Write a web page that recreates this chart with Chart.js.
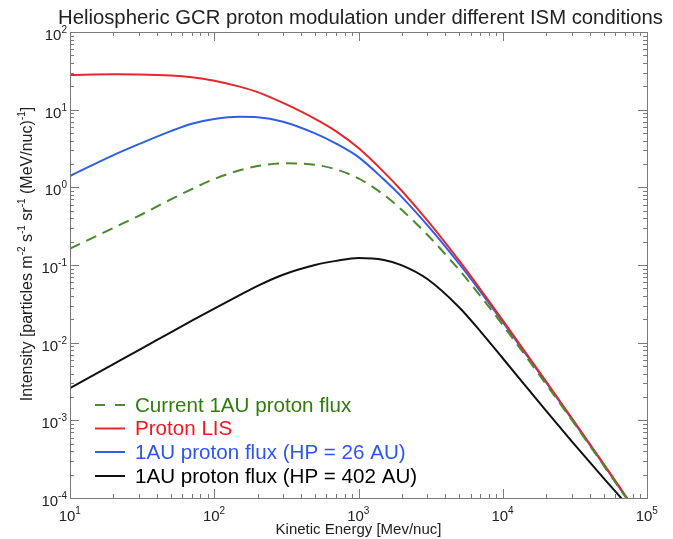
<!DOCTYPE html>
<html>
<head>
<meta charset="utf-8">
<script src="https://cdn.jsdelivr.net/npm/chart.js@4.4.1/dist/chart.umd.min.js"></script>
<style>
  html, body { margin: 0; padding: 0; background: #fff; }
</style>
</head>
<body>
<canvas id="fluxChart" width="673" height="539"></canvas>
<script>
// Kinetic energy grid (MeV/nuc)
const energy = [10, 20, 30, 50, 70, 100, 150, 200, 300, 500, 700, 1000, 1500, 2000, 3000, 5000, 7000, 10000, 20000, 30000, 50000, 70000, 100000];

// Intensities
const currentFlux = [0.163, 0.30, 0.43, 0.70, 0.95, 1.28, 1.66, 1.88, 2.04, 1.95, 1.70, 1.30, 0.80, 0.51, 0.245, 0.0858, 0.0399, 0.0169, 0.00291, 0.00102, 0.000263, 0.000107, 0.000041];
const protonLIS = [28, 28.5, 28.4, 27.6, 26.2, 23.6, 19.8, 16.8, 12.2, 7.6, 5.25, 3.2, 1.57, 0.897, 0.375, 0.113, 0.0487, 0.0194, 0.00316, 0.00108, 0.000275, 0.000111, 0.0000424];
const fluxHP26 = [1.4, 2.6, 3.6, 5.3, 6.6, 7.6, 8.1, 8.0, 7.0, 4.95, 3.65, 2.45, 1.26, 0.749, 0.326, 0.103, 0.0455, 0.0185, 0.00307, 0.00105, 0.00027, 0.000109, 0.0000416];
const fluxHP402 = [0.00259, 0.0053, 0.0080, 0.0136, 0.0192, 0.0275, 0.041, 0.054, 0.075, 0.100, 0.113, 0.123, 0.116, 0.099, 0.066, 0.0284, 0.0140, 0.0063, 0.00132, 0.00054, 0.00018, 0.0000888, 0.000042];

const xDecades = [1, 2, 3, 4, 5];
const yDecades = [2, 1, 0, -1, -2, -3, -4];

const chartTitle = 'Heliospheric GCR proton modulation under different ISM conditions';
const xTitle = 'Kinetic Energy [Mev/nuc]';
// y title pieces: [text, isSuperscript]
const yTitle = [['Intensity [particles m', 0], ['-2', 1], [' s', 0], ['-1', 1], [' sr', 0], ['-1', 1], [' (MeV/nuc)', 0], ['-1', 1], [']', 0]];

const FONT = '"Liberation Sans", Arial, Helvetica, sans-serif';

function toPoints(vals) {
    return energy.map((e, i) => ({ x: e, y: vals[i] }));
}

const datasets = [
    { label: 'Current 1AU proton flux', data: toPoints(currentFlux), borderColor: '#4a8a2c', borderDash: [11, 7], textColor: '#2f7d0e' },
    { label: 'Proton LIS', data: toPoints(protonLIS), borderColor: '#e8262d', textColor: '#f2161e' },
    { label: '1AU proton flux (HP = 26 AU)', data: toPoints(fluxHP26), borderColor: '#2f5fe6', textColor: '#2f55f0' },
    { label: '1AU proton flux (HP = 402 AU)', data: toPoints(fluxHP402), borderColor: '#111111', textColor: '#000000' }
].map(d => Object.assign({ borderWidth: 2, pointRadius: 0, fill: false, cubicInterpolationMode: 'monotone' }, d));

// draws 10^exp, anchored on x
function drawPower(ctx, x, y, exp, align) {
    ctx.font = '15px ' + FONT;
    const wb = ctx.measureText('10').width;
    ctx.font = '10px ' + FONT;
    const we = ctx.measureText(String(exp)).width;
    const x0 = align === 'right' ? x - wb - we : x - wb / 2 - 3;
    ctx.textAlign = 'left';
    ctx.textBaseline = 'alphabetic';
    ctx.font = '15px ' + FONT;
    ctx.fillText('10', x0, y);
    ctx.font = '10px ' + FONT;
    ctx.fillText(String(exp), x0 + wb, y - 7);
}

const framePlugin = {
    id: 'frame',
    afterDraw(chart) {
        const ctx = chart.ctx;
        const a = chart.chartArea;
        const xs = chart.scales.x, ys = chart.scales.y;
        ctx.save();

        // box
        ctx.strokeStyle = '#7a7a7a';
        ctx.lineWidth = 1;
        ctx.strokeRect(a.left + 0.5, a.top + 0.5, a.right - a.left, a.bottom - a.top);

        // ticks, inward on all four sides
        ctx.beginPath();
        for (let d = 1; d <= 5; d++) {
            for (let m = 1; m <= 9; m++) {
                const v = m * Math.pow(10, d);
                if (v > 1e5) break;
                const px = Math.round(xs.getPixelForValue(v)) + 0.5;
                const len = m === 1 ? 9 : 4;
                ctx.moveTo(px, a.bottom); ctx.lineTo(px, a.bottom - len);
                ctx.moveTo(px, a.top); ctx.lineTo(px, a.top + len);
            }
        }
        for (let d = -4; d <= 2; d++) {
            for (let m = 1; m <= 9; m++) {
                const v = m * Math.pow(10, d);
                if (v > 100) break;
                const py = Math.round(ys.getPixelForValue(v)) + 0.5;
                const len = m === 1 ? 9 : 4;
                ctx.moveTo(a.left, py); ctx.lineTo(a.left + len, py);
                ctx.moveTo(a.right, py); ctx.lineTo(a.right - len, py);
            }
        }
        ctx.stroke();

        // tick labels
        ctx.fillStyle = '#222';
        xDecades.forEach(d => drawPower(ctx, xs.getPixelForValue(Math.pow(10, d)), a.bottom + 23, d, 'center'));
        yDecades.forEach(d => drawPower(ctx, a.left - 3, ys.getPixelForValue(Math.pow(10, d)) + 8, d, 'right'));

        // titles
        ctx.textAlign = 'center';
        ctx.textBaseline = 'alphabetic';
        ctx.font = '20.3px ' + FONT;
        ctx.fillText(chartTitle, (a.left + a.right) / 2 + 2, 24);
        ctx.font = '15px ' + FONT;
        ctx.fillText(xTitle, (a.left + a.right) / 2, 534);

        // y title, rotated, with superscripts
        ctx.save();
        ctx.translate(32, 254);
        ctx.rotate(-Math.PI / 2);
        let total = 0;
        yTitle.forEach(([t, sup]) => {
            ctx.font = (sup ? '10px ' : '16px ') + FONT;
            total += ctx.measureText(t).width;
        });
        let cx = -total / 2;
        ctx.textAlign = 'left';
        yTitle.forEach(([t, sup]) => {
            ctx.font = (sup ? '10px ' : '16px ') + FONT;
            ctx.fillText(t, cx, sup ? -7 : 0);
            cx += ctx.measureText(t).width;
        });
        ctx.restore();

        // legend
        const rowY = [405, 428.5, 452, 476];
        chart.data.datasets.forEach((ds, i) => {
            const y = rowY[i];
            ctx.strokeStyle = ds.borderColor;
            ctx.lineWidth = 2;
            ctx.setLineDash(ds.borderDash ? [10, 10] : []);
            ctx.beginPath();
            ctx.moveTo(95, y); ctx.lineTo(125, y);
            ctx.stroke();
            ctx.setLineDash([]);
            ctx.fillStyle = ds.textColor;
            ctx.font = '20.6px ' + FONT;
            ctx.textAlign = 'left';
            ctx.textBaseline = 'middle';
            ctx.fillText(ds.label, 135, y + 1);
        });

        ctx.restore();
    }
};

new Chart(document.getElementById('fluxChart').getContext('2d'), {
    type: 'line',
    data: { datasets: datasets },
    options: {
        responsive: false,
        animation: false,
        devicePixelRatio: 1,
        layout: { padding: { left: 70, right: 26, top: 32, bottom: 41 } },
        scales: {
            x: { type: 'logarithmic', min: 10, max: 100000, display: false },
            y: { type: 'logarithmic', min: 0.0001, max: 100, display: false }
        },
        plugins: {
            legend: { display: false },
            tooltip: { enabled: false }
        }
    },
    plugins: [framePlugin]
});
</script>
</body>
</html>
